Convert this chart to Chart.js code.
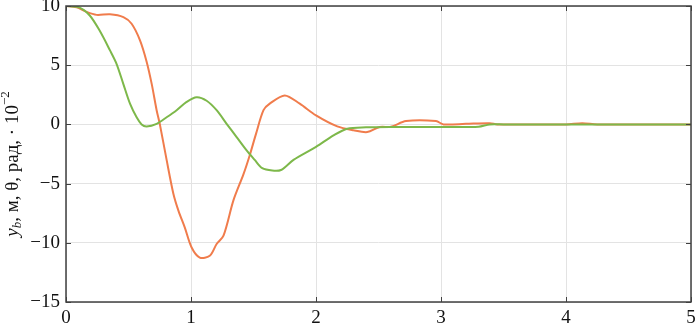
<!DOCTYPE html>
<html>
<head>
<meta charset="utf-8">
<script src="https://cdn.jsdelivr.net/npm/chart.js@4"></script>
<style>
html,body{margin:0;padding:0;background:#fff;}
#wrap{width:696px;height:325px;position:relative;}
</style>
</head>
<body>
<div id="wrap"><canvas id="c" width="696" height="325"></canvas></div>
<script>
// Data
const tOrange = [0, 0.085, 0.165, 0.245, 0.352, 0.459, 0.525, 0.592, 0.645, 0.686, 0.725, 0.75, 0.805, 0.859, 0.9, 0.95, 1.005, 1.07, 1.15, 1.205, 1.26, 1.34, 1.42, 1.47, 1.52, 1.58, 1.63, 1.75, 1.87, 2.0, 2.17, 2.3, 2.41, 2.51, 2.6, 2.72, 2.96, 3.02, 3.2, 3.39, 3.45, 3.6, 4.0, 4.13, 4.25, 5];
const yOrange = [10, 9.9, 9.5, 9.25, 9.3, 9.06, 8.5, 7.1, 5.3, 3.4, 1.2, 0.05, -3.0, -5.85, -7.3, -8.7, -10.4, -11.25, -11.1, -10.1, -9.4, -6.4, -4.2, -2.6, -0.8, 1.2, 1.75, 2.45, 1.75, 0.76, -0.17, -0.5, -0.65, -0.22, -0.2, 0.28, 0.28, 0, 0.05, 0.1, 0, 0, 0, 0.1, 0, 0];
const tGreen = [0, 0.1, 0.19, 0.27, 0.352, 0.405, 0.459, 0.512, 0.565, 0.605, 0.645, 0.725, 0.805, 0.885, 0.965, 1.045, 1.125, 1.205, 1.285, 1.365, 1.445, 1.51, 1.57, 1.65, 1.72, 1.82, 2.0, 2.14, 2.25, 2.4, 2.6, 3.0, 3.3, 3.39, 3.5, 4, 5];
const yGreen = [10, 9.9, 9.2, 7.9, 6.25, 5.1, 3.4, 1.75, 0.6, 0.0, -0.17, 0.05, 0.6, 1.2, 1.9, 2.3, 2.0, 1.2, 0.05, -1.07, -2.2, -3.0, -3.7, -3.9, -3.85, -3.0, -1.9, -0.93, -0.36, -0.25, -0.22, -0.22, -0.2, 0, 0, 0, 0];
const xTicks = [0, 1, 2, 3, 4, 5];
const yTicks = [-15, -10, -5, 0, 5, 10];

const SERIF = '"Liberation Serif", "DejaVu Serif", serif';
const AXIS = '#404040';

function pts(t, y) { return t.map((v, i) => ({x: v, y: y[i]})); }

const boxPlugin = {
  id: 'box',
  afterDatasetsDraw(chart) {
    const {ctx, chartArea: a, scales: {x, y}} = chart;
    ctx.save();
    ctx.strokeStyle = AXIS;
    ctx.lineWidth = 1.5;
    ctx.strokeRect(a.left, a.top, a.right - a.left, a.bottom - a.top);
    ctx.lineWidth = 1;
    const L = 5;
    ctx.beginPath();
    xTicks.forEach(v => {
      const px = Math.round(x.getPixelForValue(v)) + 0.5;
      ctx.moveTo(px, a.bottom); ctx.lineTo(px, a.bottom - L);
      ctx.moveTo(px, a.top); ctx.lineTo(px, a.top + L);
    });
    yTicks.forEach(v => {
      const py = Math.round(y.getPixelForValue(v)) + 0.5;
      ctx.moveTo(a.left, py); ctx.lineTo(a.left + L, py);
      ctx.moveTo(a.right, py); ctx.lineTo(a.right - L, py);
    });
    ctx.stroke();
    ctx.restore();
  },
  afterDraw(chart) {
    const ctx = chart.ctx;
    ctx.save();
    ctx.translate(13, 164);
    ctx.rotate(-Math.PI / 2);
    ctx.fillStyle = '#111';
    ctx.textBaseline = 'middle';
    const parts = [
      {t: 'y', f: 'italic 19px ' + SERIF, dy: 0},
      {t: 'b', f: 'italic 13px ' + SERIF, dy: 5},
      {t: ', м, θ, рад, · 10', f: '19px ' + SERIF, dy: 0},
      {t: '−2', f: '13px ' + SERIF, dy: -7}
    ];
    let total = 0;
    parts.forEach(p => { ctx.font = p.f; p.w = ctx.measureText(p.t).width; total += p.w; });
    let xx = -total / 2;
    parts.forEach(p => { ctx.font = p.f; ctx.fillText(p.t, xx, p.dy); xx += p.w; });
    ctx.restore();
  }
};

new Chart(document.getElementById('c'), {
  type: 'line',
  data: {
    datasets: [
      {label: 'green', data: pts(tGreen, yGreen), borderColor: '#7db84a', borderWidth: 2, pointRadius: 0, tension: 0.3, fill: false},
      {label: 'orange', data: pts(tOrange, yOrange), borderColor: '#f07c4c', borderWidth: 2, pointRadius: 0, tension: 0.3, fill: false}
    ]
  },
  options: {
    responsive: false,
    animation: false,
    layout: {padding: {left: 0, right: 5, top: 6, bottom: 0}},
    plugins: {legend: {display: false}, tooltip: {enabled: false}},
    scales: {
      x: {
        type: 'linear', min: 0, max: 5,
        afterBuildTicks(s) { s.ticks = xTicks.map(v => ({value: v})); },
        afterFit(s) { s.height = 23; s.paddingLeft = 0; s.paddingRight = 0; },
        grid: {color: '#e3e3e3', lineWidth: 1, drawTicks: false},
        border: {display: false},
        ticks: {padding: 5, color: '#111', font: {family: SERIF, size: 19}, maxRotation: 0}
      },
      y: {
        type: 'linear', min: -15, max: 10,
        afterBuildTicks(s) { s.ticks = yTicks.map(v => ({value: v})); },
        afterFit(s) { s.width = 66; s.paddingTop = 0; s.paddingBottom = 0; },
        grid: {color: '#e3e3e3', lineWidth: 1, drawTicks: false},
        border: {display: false},
        ticks: {padding: 6, color: '#111', font: {family: SERIF, size: 19},
          callback: v => String(v).replace('-', '\u2212')}
      }
    }
  },
  plugins: [boxPlugin]
});
</script>
</body>
</html>
